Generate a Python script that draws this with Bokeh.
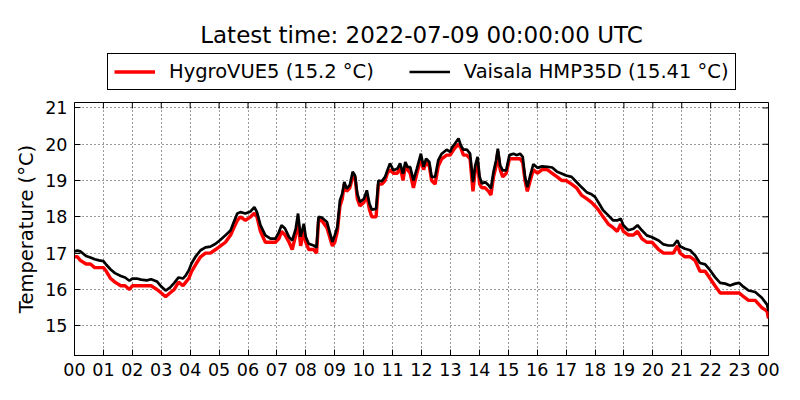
import math
from bokeh.plotting import figure
from bokeh.layouts import column
from bokeh.models import Range1d, FixedTicker, Legend, LegendItem
from bokeh.embed import file_html
from bokeh.resources import INLINE

title_text = "Latest time: 2022-07-09 00:00:00 UTC"
series_names = ["HygroVUE5 (15.2 °C)", "Vaisala HMP35D (15.41 °C)"]
series_colors = ["#ff0000", "black"]
hour_ticks = list(range(25))
hour_labels = ["00", "01", "02", "03", "04", "05", "06", "07", "08", "09", "10", "11",
               "12", "13", "14", "15", "16", "17", "18", "19", "20", "21", "22", "23", "00"]
temp_ticks = [15, 16, 17, 18, 19, 20, 21]

hours = [0.00, 0.10, 0.20, 0.40, 0.55, 0.70, 0.85, 1.00, 1.10, 1.25, 1.40, 1.60, 1.75, 1.90,
         2.00, 2.15, 2.30, 2.50, 2.65, 2.85, 3.00, 3.15, 3.30, 3.45, 3.60, 3.75, 3.85, 3.95,
         4.05, 4.20, 4.36, 4.53, 4.70, 4.88, 5.05, 5.22, 5.40, 5.51, 5.63, 5.74, 5.91, 6.09,
         6.22, 6.31, 6.43, 6.60, 6.78, 6.95, 7.07, 7.16, 7.28, 7.42, 7.53, 7.65, 7.73, 7.82,
         7.93, 8.00, 8.10, 8.27, 8.37, 8.44, 8.55, 8.73, 8.84, 8.92, 9.00, 9.09, 9.18, 9.26,
         9.33, 9.41, 9.52, 9.62, 9.70, 9.78, 9.87, 10.01, 10.11, 10.20, 10.28, 10.43, 10.51,
         10.63, 10.74, 10.82, 10.91, 11.03, 11.17, 11.26, 11.36, 11.44, 11.52, 11.61, 11.72,
         11.84, 11.98, 12.07, 12.16, 12.27, 12.35, 12.47, 12.58, 12.70, 12.87, 12.99, 13.07,
         13.16, 13.28, 13.36, 13.45, 13.57, 13.68, 13.78, 13.86, 13.94, 14.01, 14.09, 14.20,
         14.32, 14.40, 14.49, 14.58, 14.64, 14.72, 14.81, 14.93, 15.04, 15.18, 15.30, 15.41,
         15.50, 15.58, 15.66, 15.76, 15.87, 16.01, 16.17, 16.35, 16.52, 16.69, 16.86, 17.00,
         17.19, 17.36, 17.53, 17.71, 17.88, 18.00, 18.11, 18.28, 18.46, 18.63, 18.77, 18.89,
         18.98, 19.15, 19.33, 19.47, 19.62, 19.79, 19.97, 20.20, 20.37, 20.54, 20.71, 20.85,
         20.94, 21.11, 21.29, 21.46, 21.63, 21.81, 21.98, 22.15, 22.33, 22.50, 22.67, 22.85,
         22.99, 23.14, 23.31, 23.54, 23.77, 23.95, 24.00]

vaisala = [17.05, 17.07, 17.05, 16.92, 16.88, 16.83, 16.80, 16.78, 16.68, 16.55, 16.45, 16.37,
           16.33, 16.24, 16.30, 16.30, 16.27, 16.25, 16.28, 16.22, 16.08, 15.97, 16.05, 16.18,
           16.33, 16.30, 16.39, 16.52, 16.72, 16.92, 17.08, 17.16, 17.18, 17.26, 17.37, 17.49,
           17.63, 17.86, 18.09, 18.13, 18.09, 18.15, 18.27, 18.13, 17.77, 17.49, 17.40, 17.40,
           17.58, 17.77, 17.68, 17.44, 17.35, 17.67, 18.09, 17.45, 17.81, 17.44, 17.26, 17.21,
           17.16, 18.00, 17.98, 17.86, 17.54, 17.31, 17.49, 17.72, 18.46, 18.64, 18.96, 18.78,
           18.87, 19.24, 19.14, 18.64, 18.41, 18.50, 18.73, 18.36, 18.20, 18.22, 19.00, 18.98,
           19.10, 19.28, 19.47, 19.28, 19.33, 19.47, 19.19, 19.51, 19.37, 19.37, 19.00, 19.33,
           19.74, 19.38, 19.60, 19.51, 19.10, 19.10, 19.56, 19.74, 19.85, 19.79, 19.93, 20.02,
           20.16, 19.97, 19.85, 19.85, 19.74, 18.96, 19.42, 19.65, 19.10, 18.92, 18.96, 18.87,
           18.78, 19.24, 19.56, 19.88, 19.42, 19.28, 19.28, 19.70, 19.74, 19.70, 19.74, 19.65,
           19.10, 18.82, 19.14, 19.45, 19.35, 19.39, 19.38, 19.36, 19.24, 19.19, 19.14, 19.10,
           18.96, 18.82, 18.68, 18.62, 18.55, 18.41, 18.18, 18.04, 17.90, 17.90, 17.95, 17.77,
           17.63, 17.67, 17.77, 17.63, 17.49, 17.44, 17.35, 17.24, 17.21, 17.21, 17.35, 17.19,
           17.12, 17.08, 16.94, 16.73, 16.69, 16.53, 16.34, 16.18, 16.16, 16.11, 16.16, 16.18,
           16.07, 15.97, 15.93, 15.77, 15.58, 15.41]

hygrovue = [16.9, 16.9, 16.8, 16.7, 16.7, 16.6, 16.6, 16.6, 16.5, 16.3, 16.2, 16.1, 16.1, 16.0,
            16.1, 16.1, 16.1, 16.1, 16.1, 16.0, 15.9, 15.8, 15.9, 16.0, 16.2, 16.1, 16.2, 16.3,
            16.5, 16.7, 16.9, 17.0, 17.0, 17.1, 17.2, 17.3, 17.5, 17.7, 17.9, 18.0, 17.9, 18.0,
            18.1, 18.0, 17.6, 17.3, 17.3, 17.3, 17.4, 17.6, 17.5, 17.3, 17.1, 17.5, 17.9, 17.2,
            17.6, 17.3, 17.1, 17.1, 17.0, 17.9, 17.9, 17.7, 17.4, 17.2, 17.3, 17.6, 18.3, 18.5,
            18.9, 18.7, 18.8, 19.1, 19.1, 18.5, 18.3, 18.4, 18.6, 18.2, 18.0, 18.0, 18.9, 18.9,
            19.0, 19.2, 19.3, 19.2, 19.2, 19.4, 19.0, 19.4, 19.3, 19.2, 18.8, 19.2, 19.6, 19.3,
            19.5, 19.4, 19.0, 18.9, 19.4, 19.6, 19.7, 19.7, 19.8, 19.9, 20.0, 19.9, 19.7, 19.7,
            19.6, 18.7, 19.3, 19.5, 18.9, 18.8, 18.8, 18.7, 18.6, 19.1, 19.4, 19.8, 19.3, 19.1,
            19.2, 19.6, 19.6, 19.6, 19.6, 19.5, 19.0, 18.7, 19.0, 19.3, 19.2, 19.3, 19.3, 19.2,
            19.1, 19.0, 19.0, 18.9, 18.8, 18.6, 18.5, 18.4, 18.3, 18.2, 18.0, 17.8, 17.7, 17.6,
            17.8, 17.6, 17.5, 17.5, 17.6, 17.4, 17.3, 17.3, 17.1, 17.0, 17.0, 17.0, 17.2, 17.0,
            16.9, 16.9, 16.8, 16.5, 16.5, 16.3, 16.1, 15.9, 15.9, 15.9, 15.9, 15.9, 15.8, 15.7,
            15.7, 15.5, 15.4, 15.2]

FONT = "DejaVu Sans"
Y_LO, Y_HI = 14.18, 21.15
LW = [3.4, 2.7]

# ---- header: title + legend (its frame is aligned with the chart frame below) ----
top = figure(width=800, height=95, output_backend="svg", toolbar_location=None,
             x_axis_type=None, y_axis_type=None,
             x_range=Range1d(0, 1), y_range=Range1d(0, 1),
             min_border_left=74, min_border_right=32, min_border_top=47, min_border_bottom=0)
top.outline_line_color = None
top.xgrid.visible = False
top.ygrid.visible = False
top.title.text = title_text
top.title.align = "center"
top.title.text_font = FONT
top.title.text_font_size = "23px"
top.title.text_font_style = "normal"
top.title.text_color = "black"
top.title.offset = 0
top.title.standoff = 0

# legend keys: the series drawn in the header's 0..1 range lie outside its frame
key_red = top.line(hours, hygrovue, line_color=series_colors[0], line_width=LW[0])
key_blk = top.line(hours, vaisala, line_color=series_colors[1], line_width=LW[1])

legend = Legend(items=[LegendItem(label=series_names[0], renderers=[key_red]),
                       LegendItem(label=series_names[1], renderers=[key_blk])],
                orientation="horizontal", location=(33, 5),
                border_line_color="black", border_line_width=1.2, border_line_alpha=1.0,
                label_text_font=FONT, label_text_font_size="19.5px", label_text_color="black",
                glyph_width=41, glyph_height=21, label_height=22,
                label_standoff=14, spacing=35, padding=6, margin=0)
top.add_layout(legend)

# ---- main chart ----
p = figure(width=800, height=305, output_backend="svg", toolbar_location=None,
           x_range=Range1d(0, 24), y_range=Range1d(Y_LO, Y_HI),
           min_border_left=74, min_border_right=32, min_border_top=7, min_border_bottom=45)

p.line(hours, hygrovue, line_color=series_colors[0], line_width=LW[0])
p.line(hours, vaisala, line_color=series_colors[1], line_width=LW[1])

p.xaxis.ticker = FixedTicker(ticks=hour_ticks)
p.xaxis.major_label_overrides = {t: lab for t, lab in zip(hour_ticks, hour_labels)}
p.yaxis.ticker = FixedTicker(ticks=temp_ticks)
p.yaxis.axis_label = "Temperature (°C)"
p.yaxis.axis_label_text_font = FONT
p.yaxis.axis_label_text_font_size = "19.5px"
p.yaxis.axis_label_text_font_style = "normal"
p.yaxis.axis_label_text_color = "black"
p.yaxis.axis_label_standoff = 4

for ax in [p.xaxis[0], p.yaxis[0]]:
    ax.major_label_text_font = FONT
    ax.major_label_text_font_size = "17.5px"
    ax.major_label_text_color = "black"
    ax.major_tick_in = 6
    ax.major_tick_out = 0
    ax.minor_tick_line_color = None
    ax.axis_line_color = "black"
    ax.major_tick_line_color = "black"
    ax.major_label_standoff = 7

# inward ticks on the top and right edges of the frame
p.ray(x=hour_ticks, y=[Y_HI] * len(hour_ticks), length=6, length_units="screen",
      angle=-math.pi / 2, line_color="black", line_width=1)
p.ray(x=[24] * len(temp_ticks), y=temp_ticks, length=6, length_units="screen",
      angle=math.pi, line_color="black", line_width=1)

p.xgrid.ticker = FixedTicker(ticks=hour_ticks)
p.ygrid.ticker = FixedTicker(ticks=temp_ticks)
for g in [p.xgrid[0], p.ygrid[0]]:
    g.grid_line_color = "black"
    g.grid_line_dash = "1 3"
    g.grid_line_width = 1
    g.grid_line_alpha = 0.8

p.outline_line_color = "black"
p.outline_line_width = 1
p.background_fill_color = "white"
p.border_fill_color = "white"

layout = column(top, p, spacing=0)
open("out.html", "w").write(file_html(layout, INLINE))
